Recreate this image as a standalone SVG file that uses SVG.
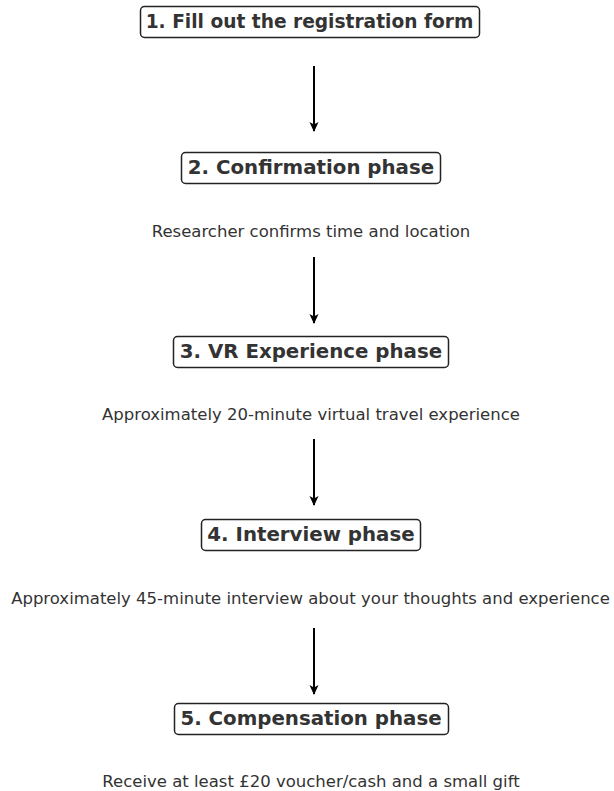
<svg xmlns="http://www.w3.org/2000/svg" width="614" height="791" viewBox="0 0 614 791">
<defs>
<style>
.box{fill:#fff;stroke:#222;stroke-width:1.5}
.t{font-family:"DejaVu Sans",sans-serif;font-weight:bold;font-size:19.8px;fill:#333;text-anchor:middle;dominant-baseline:central}
.t1{font-size:18.6px}
.d{font-family:"DejaVu Sans",sans-serif;font-size:16.5px;fill:#333;text-anchor:middle;dominant-baseline:central}
.a{stroke:#000;stroke-width:2;fill:none;marker-end:url(#ah)}
</style>
<marker id="ah" viewBox="0 0 10 10" refX="9" refY="5" markerWidth="5" markerHeight="5" orient="auto" markerUnits="strokeWidth">
<path d="M0,0.5 L10,5 L0,9.5 L2.5,5 z" fill="#000"/>
</marker>
</defs>
<rect width="614" height="791" fill="#fff"/>
<g id="connectors">
<line class="a" x1="314" y1="66" x2="314" y2="131"/>
<line class="a" x1="314" y1="257" x2="314" y2="323"/>
<line class="a" x1="314" y1="439" x2="314" y2="505"/>
<line class="a" x1="314" y1="628" x2="314" y2="694"/>
</g>
<g id="node1">
<rect class="box" x="140.5" y="6.5" width="339" height="31" rx="4"/>
<text class="t t1" x="309.5" y="21.5">1. Fill out the registration form</text>
</g>
<g id="node2">
<rect class="box" x="181.5" y="152.5" width="259" height="31" rx="4"/>
<text class="t" x="311" y="167.5">2. Confirmation phase</text>
<text class="d" x="311" y="231">Researcher confirms time and location</text>
</g>
<g id="node3">
<rect class="box" x="173.5" y="336.5" width="275" height="31" rx="4"/>
<text class="t" x="311" y="351">3. VR Experience phase</text>
<text class="d" x="311" y="414">Approximately 20-minute virtual travel experience</text>
</g>
<g id="node4">
<rect class="box" x="201.5" y="519.5" width="219" height="31" rx="4"/>
<text class="t" x="311" y="534">4. Interview phase</text>
<text class="d" x="310.5" y="598">Approximately 45-minute interview about your thoughts and experience</text>
</g>
<g id="node5">
<rect class="box" x="174.5" y="703.5" width="274" height="31" rx="4"/>
<text class="t" x="311" y="718">5. Compensation phase</text>
<text class="d" x="311" y="781">Receive at least £20 voucher/cash and a small gift</text>
</g>
</svg>
